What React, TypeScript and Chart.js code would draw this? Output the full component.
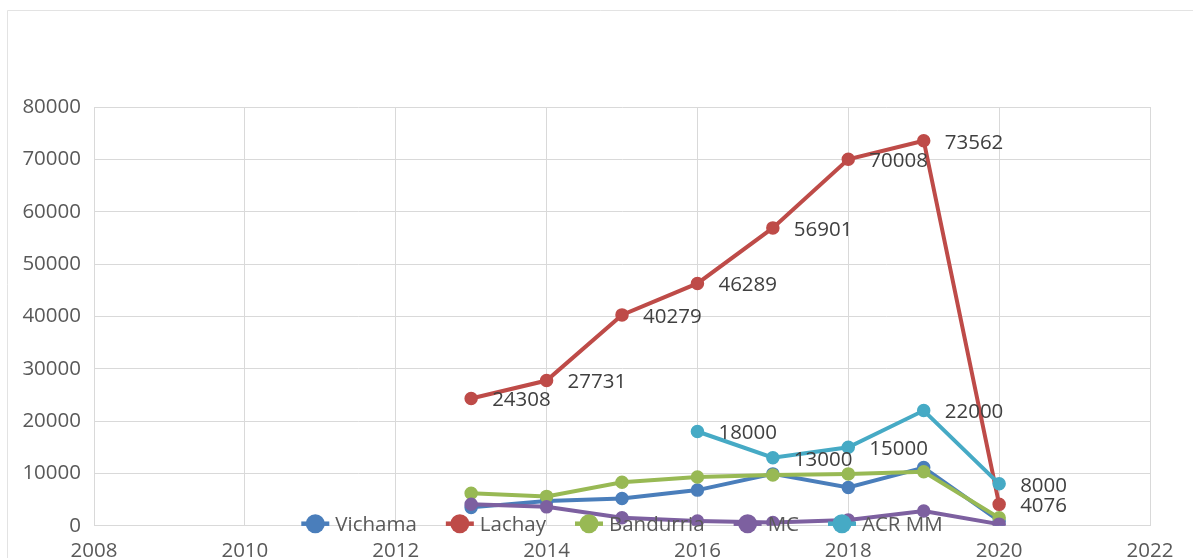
import React, { useEffect, useRef } from "react";
import { Chart, registerables } from "chart.js";

Chart.register(...registerables);

// ---- data ----
const years = [2013, 2014, 2015, 2016, 2017, 2018, 2019, 2020];
const vichama = [3500, 4700, 5200, 6800, 9900, 7300, 11100, 900];
const lachay = [24308, 27731, 40279, 46289, 56901, 70008, 73562, 4076];
const bandurria = [6200, 5600, 8300, 9300, 9700, 9900, 10300, 1500];
const mc = [4100, 3600, 1500, 900, 600, 1100, 2800, 300];
const acrMM: (number | null)[] = [null, null, null, 18000, 13000, 15000, 22000, 8000];

const seriesNames = ["Vichama", "Lachay", "Bandurria", "MC", "ACR MM"];
const seriesValues: (number | null)[][] = [vichama, lachay, bandurria, mc, acrMM];
const seriesColors = ["#4A7EBB", "#BE4B48", "#98B954", "#7D60A0", "#46AAC5"];
const labeledSeries = ["Lachay", "ACR MM"];

const xMin = 2008;
const xMax = 2022;
const xStep = 2;
const yMin = 0;
const yMax = 80000;
const yStep = 10000;

const FONT = "'Open Sans', sans-serif";
const FONT_SIZE = 20.5;
const TEXT_COLOR = "#595959";
const LABEL_COLOR = "#404040";
const GRID_COLOR = "#d9d9d9";

const toPoints = (vals: (number | null)[]) =>
  years
    .map((yr, i) => ({ x: yr, y: vals[i] }))
    .filter((p) => p.y !== null && p.y !== undefined);

const framePlugin = {
  id: "frame",
  beforeDraw(chart: any) {
    const ctx = chart.ctx;
    ctx.save();
    ctx.fillStyle = "#ffffff";
    ctx.fillRect(0, 0, chart.width, chart.height);
    ctx.strokeStyle = "#e3e3e3";
    ctx.lineWidth = 1;
    ctx.beginPath();
    ctx.moveTo(7.5, chart.height + 5);
    ctx.lineTo(7.5, 10.5);
    ctx.lineTo(chart.width + 5, 10.5);
    ctx.stroke();
    ctx.restore();
  },
};

const labelPlugin = {
  id: "pointLabels",
  afterDatasetsDraw(chart: any) {
    const ctx = chart.ctx;
    ctx.save();
    ctx.font = `${FONT_SIZE}px ${FONT}`;
    ctx.fillStyle = LABEL_COLOR;
    ctx.textAlign = "left";
    ctx.textBaseline = "middle";
    chart.data.datasets.forEach((ds: any, di: number) => {
      if (!labeledSeries.includes(ds.label)) return;
      const meta = chart.getDatasetMeta(di);
      meta.data.forEach((el: any, i: number) => {
        const v = ds.data[i].y;
        ctx.fillText(String(v), el.x + 21, el.y + 2);
      });
    });
    ctx.restore();
  },
};

const legendPlugin = {
  id: "customLegend",
  afterDraw(chart: any) {
    const ctx = chart.ctx;
    const area = chart.chartArea;
    ctx.save();
    ctx.font = `${FONT_SIZE}px ${FONT}`;
    const half = 14;
    const textGap = 20;
    const itemGap = 29;
    const widths = chart.data.datasets.map((ds: any) => ctx.measureText(ds.label).width);
    let total = 0;
    widths.forEach((w: number, i: number) => {
      total += half + textGap + w;
      if (i < widths.length - 1) total += itemGap;
    });
    let x = (area.left + area.right) / 2 - total / 2;
    const y = area.bottom - 2;
    chart.data.datasets.forEach((ds: any, i: number) => {
      const cx = x + half;
      ctx.strokeStyle = ds.borderColor;
      ctx.lineWidth = 4.5;
      ctx.beginPath();
      ctx.moveTo(cx - half, y);
      ctx.lineTo(cx + half, y);
      ctx.stroke();
      ctx.fillStyle = ds.borderColor;
      ctx.beginPath();
      ctx.arc(cx, y, 9.5, 0, Math.PI * 2);
      ctx.fill();
      ctx.fillStyle = TEXT_COLOR;
      ctx.textAlign = "left";
      ctx.textBaseline = "middle";
      ctx.fillText(ds.label, cx + textGap, y + 1);
      x = cx + textGap + widths[i] + itemGap;
    });
    ctx.restore();
  },
};

export default function App() {
  const canvasRef = useRef<HTMLCanvasElement | null>(null);

  useEffect(() => {
    if (!canvasRef.current) return;
    Chart.defaults.font.family = FONT;
    const chart = new Chart(canvasRef.current, {
      type: "line",
      data: {
        datasets: seriesNames.map((name, i) => ({
          label: name,
          data: toPoints(seriesValues[i]),
          borderColor: seriesColors[i],
          backgroundColor: seriesColors[i],
          pointBackgroundColor: seriesColors[i],
          pointBorderColor: seriesColors[i],
          borderWidth: 4,
          pointRadius: 6,
          pointBorderWidth: 1.5,
          tension: 0,
          fill: false,
          order: seriesNames.length - i,
        })),
      },
      options: {
        animation: false,
        responsive: false,
        devicePixelRatio: 1,
        layout: { padding: { left: 0, right: 43, top: 107, bottom: 0 } },
        plugins: {
          legend: { display: false },
          tooltip: { enabled: false },
          title: { display: false },
        },
        scales: {
          x: {
            type: "linear",
            min: xMin,
            max: xMax,
            afterFit: (s: any) => {
              s.height = 32.3;
            },
            ticks: {
              stepSize: xStep,
              callback: (v: any) => String(v),
              color: TEXT_COLOR,
              font: { size: FONT_SIZE, family: FONT },
              padding: 13,
              maxRotation: 0,
              autoSkip: false,
            },
            grid: { color: GRID_COLOR, lineWidth: 1, drawTicks: false },
            border: { color: GRID_COLOR },
          },
          y: {
            type: "linear",
            min: yMin,
            max: yMax,
            afterFit: (s: any) => {
              s.width = 94;
            },
            ticks: {
              stepSize: yStep,
              callback: (v: any) => String(v),
              color: TEXT_COLOR,
              font: { size: FONT_SIZE, family: FONT },
              padding: 13,
            },
            grid: { color: GRID_COLOR, lineWidth: 1, drawTicks: false },
            border: { color: GRID_COLOR },
          },
        },
      },
      plugins: [framePlugin, labelPlugin, legendPlugin],
    });
    return () => chart.destroy();
  }, []);

  return (
    <div style={{ position: "fixed", left: 0, top: 0, width: 1193, height: 558, overflow: "hidden" }}>
      <canvas ref={canvasRef} width={1193} height={558} style={{ display: "block" }} />
    </div>
  );
}
